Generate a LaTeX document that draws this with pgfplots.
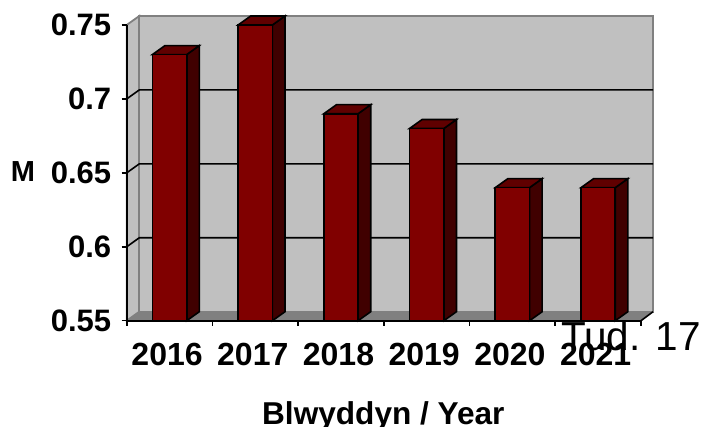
\documentclass[border=0pt]{standalone}
\usepackage{fontspec}
\setmainfont{Liberation Sans}
\usepackage{pgfplots}
\usepackage{pgfplotstable}
\pgfplotsset{compat=1.18}
\definecolor{wall}{HTML}{C0C0C0}
\definecolor{floorgray}{HTML}{808080}
\definecolor{barfront}{HTML}{800000}
\definecolor{bartop}{HTML}{600000}
\definecolor{barside}{HTML}{400000}
\pgfplotstableread{
x   y
0.5 0.73
1.5 0.75
2.5 0.69
3.5 0.68
4.5 0.64
5.5 0.64
}\mdata
\begin{document}
\begin{tikzpicture}[x=1pt,y=1pt]
  \path[use as bounding box] (0,0) rectangle (703,427);
  \begin{axis}[
    at={(126.7pt,106.3pt)},
    anchor=south west,
    scale only axis,
    width=514.3pt,
    height=295.7pt,
    xmin=0, xmax=6,
    ymin=0.55, ymax=0.75,
    clip=false,
    axis on top,
    axis x line*=bottom,
    axis y line*=left,
    axis line style={black, line width=1.8pt, -},
    xtick={0,1,2,3,4,5,6},
    x tick label as interval,
    xticklabels={2016,2017,2018,2019,2020,2021},
    ytick={0.55,0.6,0.65,0.7,0.75},
    yticklabels={0.55,0.6,0.65,0.7,0.75},
    tick style={black, line width=1.6pt},
    tick align=outside,
    major tick length=5pt,
    xticklabel style={font=\bfseries\fontsize{32}{32}\selectfont, yshift=-14pt, xshift=-2.5pt},
    yticklabel style={font=\bfseries\fontsize{31}{31}\selectfont, xshift=-7pt},
    xlabel={Blwyddyn / Year},
    ylabel={M},
    xlabel style={font=\bfseries\fontsize{31.6}{32}\selectfont, at={(axis description cs:0.499,-0.322)},anchor=center},
    ylabel style={font=\bfseries\fontsize{29}{30}\selectfont, at={(axis description cs:-0.2016,0.503)},rotate=-90,anchor=center},
  ]
    % side wall, back wall, floor
    \addplot[fill=wall, draw=floorgray, line width=1.8pt] coordinates {(0,0.55)(0.147,0.55609)(0.147,0.75609)(0,0.75)} --cycle;
    \addplot[fill=wall, draw=floorgray, line width=1.8pt] coordinates {(0.147,0.55609)(6.14,0.55609)(6.14,0.75609)(0.147,0.75609)} --cycle;
    \addplot[fill=floorgray, draw=none] coordinates {(0,0.55)(6,0.55)(6.14,0.55609)(0.147,0.55609)} --cycle;
    \addplot[black, line width=1.6pt] coordinates {(6,0.55)(6.14,0.55609)};
    % grid lines
    \addplot[black, line width=1.6pt] coordinates {(0,0.6)(0.147,0.60609)(6.14,0.60609)};
    \addplot[black, line width=1.6pt] coordinates {(0,0.65)(0.147,0.65609)(6.14,0.65609)};
    \addplot[black, line width=1.6pt] coordinates {(0,0.7)(0.147,0.70609)(6.14,0.70609)};
    % bar sides
    \addplot[fill=barside, draw=black, line width=1.6pt] coordinates {(0.7,0.55)(0.847,0.55609)(0.847,0.73609)(0.7,0.73)} --cycle;
    \addplot[fill=barside, draw=black, line width=1.6pt] coordinates {(1.7,0.55)(1.847,0.55609)(1.847,0.75609)(1.7,0.75)} --cycle;
    \addplot[fill=barside, draw=black, line width=1.6pt] coordinates {(2.7,0.55)(2.847,0.55609)(2.847,0.69609)(2.7,0.69)} --cycle;
    \addplot[fill=barside, draw=black, line width=1.6pt] coordinates {(3.7,0.55)(3.847,0.55609)(3.847,0.68609)(3.7,0.68)} --cycle;
    \addplot[fill=barside, draw=black, line width=1.6pt] coordinates {(4.7,0.55)(4.847,0.55609)(4.847,0.64609)(4.7,0.64)} --cycle;
    \addplot[fill=barside, draw=black, line width=1.6pt] coordinates {(5.7,0.55)(5.847,0.55609)(5.847,0.64609)(5.7,0.64)} --cycle;
    % bar tops
    \addplot[fill=bartop, draw=black, line width=1.6pt] coordinates {(0.3,0.73)(0.7,0.73)(0.847,0.73609)(0.447,0.73609)} --cycle;
    \addplot[fill=bartop, draw=black, line width=1.6pt] coordinates {(1.3,0.75)(1.7,0.75)(1.847,0.75609)(1.447,0.75609)} --cycle;
    \addplot[fill=bartop, draw=black, line width=1.6pt] coordinates {(2.3,0.69)(2.7,0.69)(2.847,0.69609)(2.447,0.69609)} --cycle;
    \addplot[fill=bartop, draw=black, line width=1.6pt] coordinates {(3.3,0.68)(3.7,0.68)(3.847,0.68609)(3.447,0.68609)} --cycle;
    \addplot[fill=bartop, draw=black, line width=1.6pt] coordinates {(4.3,0.64)(4.7,0.64)(4.847,0.64609)(4.447,0.64609)} --cycle;
    \addplot[fill=bartop, draw=black, line width=1.6pt] coordinates {(5.3,0.64)(5.7,0.64)(5.847,0.64609)(5.447,0.64609)} --cycle;
    % bar fronts
    \addplot[ybar, bar shift=0pt, bar width=34.3pt, fill=barfront, draw=black, line width=1.6pt] table {\mdata};
  \end{axis}
  \node[anchor=base west, inner sep=0pt, font=\fontsize{40.5}{41}\selectfont] at (561,76) {Tud. 17};
\end{tikzpicture}
\end{document}
